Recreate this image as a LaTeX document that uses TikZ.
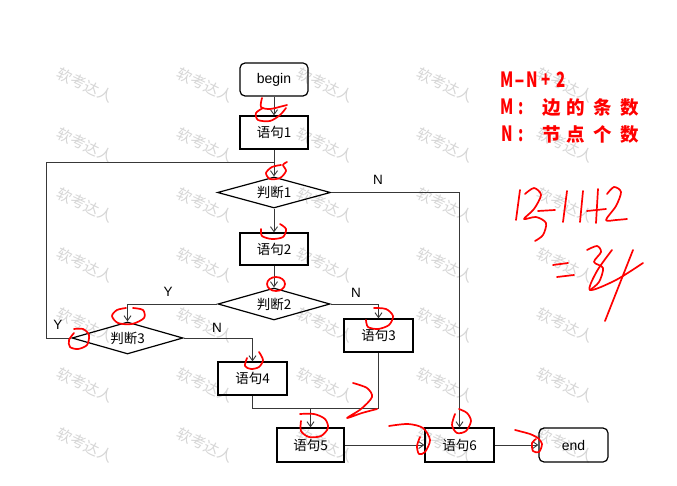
\documentclass[tikz,border=0pt]{standalone}
\usepackage{fontspec}
\setmainfont{Liberation Sans}
\newfontfamily\cjk{Noto Sans CJK SC}
\usetikzlibrary{shapes.geometric,arrows.meta}
\newcommand\lat[2][0.72]{\scalebox{#1}[1]{\fontsize{21}{22}\selectfont #2}}
\begin{document}
\begin{tikzpicture}[x=1pt,y=-1pt,
 box/.style={draw=black,line width=1.2pt,minimum width=68pt,minimum height=33pt,inner sep=0pt,font=\cjk\fontsize{13.5}{16}\selectfont},
 term/.style={box,rounded corners=5pt,font=\fontsize{14}{16}\selectfont},
 dec/.style={diamond,draw=black,line width=1.2pt,minimum width=113pt,minimum height=31pt,inner sep=0pt},
 dlab/.style={font=\cjk\fontsize{13.5}{16}\selectfont,inner sep=0pt},
 conn/.style={draw=black!78,line width=0.9pt},
 arr/.style={conn,-{Straight Barb[length=5pt,width=7pt,line width=0.9pt]}},
 yn/.style={font=\fontsize{13.5}{16}\selectfont,inner sep=0pt},
 hand/.style={draw=red,line width=1.7pt,line cap=round,line join=round},
 wm/.style={font=\cjk\fontsize{15}{16}\selectfont,text=black!16,rotate=-25.5,inner sep=0pt},
 rt/.style={font=\cjk\bfseries\fontsize{18.5}{20}\selectfont,text=red,inner sep=0pt,anchor=base}
]
\useasboundingbox[fill=white] (0,0) rectangle (677,486);

% watermarks
\foreach \i in {0,...,4}{
  \foreach \j in {0,...,6}{
    \node[wm] (wm-\i-\j) at ({85+120*\i},{85+60*\j}) {软考达人};
  }
}

% flowchart nodes
\node[term] (b) at (274,79.5) {begin};
\node[box] (s1) at (274,132.5) {语句1};
\node[dec] (d1) at (274,192.5) {};
\node[dlab] (d1t) at (d1) {判断1};
\node[box,minimum height=32pt] (s2) at (274,249) {语句2};
\node[dec,minimum width=112pt,minimum height=32pt] (d2) at (274,304) {};
\node[dlab] (d2t) at (d2) {判断2};
\node[dec,minimum width=111pt,minimum height=32pt] (d3) at (127.5,338) {};
\node[dlab] (d3t) at (d3) {判断3};
\node[box,minimum width=69pt] (s3) at (378.5,335.5) {语句3};
\node[box,minimum width=69pt] (s4) at (252.5,378.5) {语句4};
\node[box,minimum width=67pt,minimum height=34pt] (s5) at (310.5,445) {语句5};
\node[box,minimum width=69pt,minimum height=34pt] (s6) at (459.5,445) {语句6};
\node[term,minimum width=69pt,minimum height=34pt] (e) at (573.5,445) {end};

% connectors
\coordinate (j1) at (274,162);
\coordinate (lp) at (46,338);
\coordinate (j2) at (310.5,408);
\draw[arr] (b.south) -- (s1.north);
\draw[arr] (s1.south) -- (d1.north);
\draw[arr] (d1.south) -- (s2.north);
\draw[arr] (s2.south) -- (d2.north);
\draw[arr] (d2.west) -| (d3.north);
\draw[conn] (d3.west) -- (lp) |- (j1);
\draw[arr] (d3.east) -| (s4.north);
\draw[arr] (d2.east) -| (s3.north);
\draw[conn] (s4.south) |- (j2);
\draw[conn] (s3.south) |- (j2);
\draw[arr] (j2) -- (s5.north);
\draw[arr] (d1.east) -| (s6.north);
\draw[arr] (s5.east) -- (s6.west);
\draw[arr] (s6.east) -- (e.west);

% labels
\node[yn] (ly1) at (168,292) {Y};
\node[yn] (ly2) at (58,325) {Y};
\node[yn] (ln1) at (217,328) {N};
\node[yn] (ln2) at (356,293) {N};
\node[yn] (ln3) at (378,180) {N};

% red typed text
\node[rt] (r1a) at (507.5,88) {\lat{M}};
\node[rt] (r1b) at (520,88) {\lat[1.35]{-}};
\node[rt] (r1c) at (532.5,88) {\lat{N}};
\node[rt] (r1d) at (546.5,88) {\lat{+}};
\node[rt] (r1e) at (561,88) {\lat{2}};
\node[rt] (r2a) at (507.5,114.5) {\lat{M}};
\node[rt] (r2b) at (521.5,114.5) {\lat{:}};
\node[rt] (r2c) at (551.5,114.5) {边};
\node[rt] (r2d) at (576,114.5) {的};
\node[rt] (r2e) at (602.5,114.5) {条};
\node[rt] (r2f) at (630,114.5) {数};
\node[rt] (r3a) at (507.5,142) {\lat{N}};
\node[rt] (r3b) at (521.5,142) {\lat{:}};
\node[rt] (r3c) at (551.5,142) {节};
\node[rt] (r3d) at (576,142) {点};
\node[rt] (r3e) at (602.5,142) {个};
\node[rt] (r3f) at (630,142) {数};

% handwritten marks
\draw[hand] plot[smooth] coordinates {(262,98) (261,107) (270,109) (283,106) (287,105)};
\draw[hand] plot[smooth] coordinates {(286,108) (280,115) (270,121) (258,120) (256,113) (263,108)};
\draw[hand] plot[smooth] coordinates {(287,162) (283,165) (286,171) (280,178) (270,179) (266,173) (272,167) (281,165)};
\draw[hand] plot[smooth] coordinates {(280,224) (286,229) (283,237) (272,239) (262,236) (261,229)};
\draw[hand] (276,284) ellipse (9 and 7);
\draw[hand] plot[smooth] coordinates {(133,308) (143,310) (144,318) (132,324) (118,323) (112,316) (117,310) (126,308)};
\draw[hand] plot[smooth] coordinates {(74,329) (83,329) (89,335) (87,345) (78,349) (70,347) (69,340) (74,333)};
\draw[hand] plot[smooth] coordinates {(259,352) (263,360) (259,367) (251,369) (245,366) (247,358)};
\draw[hand] plot[smooth] coordinates {(300,414) (314,414) (325,419) (328,428) (321,436) (309,437) (301,431) (301,421)};
\draw[hand] plot[smooth] coordinates {(374,308) (386,309) (393,316) (389,325) (378,329) (368,327) (366,320)};
\draw[hand] plot[smooth] coordinates {(353,383) (367,388) (372,397) (361,409) (347,418) (362,413) (377,409)};
\draw[hand] plot[smooth] coordinates {(459,409) (467,413) (471,421) (466,431) (457,433) (452,425) (455,414)};
\draw[hand] plot[smooth] coordinates {(389,426) (408,424) (423,428) (430,440) (425,452) (419,454) (417,446) (420,437)};
\draw[hand] plot[smooth] coordinates {(515,430) (530,434) (538,438)};
\draw[hand] plot[smooth] coordinates {(538,438) (542,444) (539,452) (533,451) (532,443) (536,439)};
% 12-11+2
\draw[hand] (520,190) -- (516,220);
\draw[hand] plot[smooth] coordinates {(525,194) (534,188) (541,195) (534,209) (524,219) (536,217) (546,223) (543,235) (535,241)};
\draw[hand] (538,211) -- (555,210);
\draw[hand] (567,191) -- (563,222);
\draw[hand] (583,191) -- (580,222);
\draw[hand] (598,189) -- (596,223);
\draw[hand] (587,211) -- (606,209);
\draw[hand] plot[smooth] coordinates {(607,194) (614,187) (621,192) (616,206) (606,220) (616,220) (627,219)};
% =3 4
\draw[hand] (553,265) -- (568,263);
\draw[hand] (557,277) -- (574,275);
\draw[hand] plot[smooth] coordinates {(587,250) (597,246) (601,252) (594,262) (603,268) (599,282) (590,290)};
\draw[hand] plot[smooth] coordinates {(612,250) (597,271) (590,290) (616,280) (643,263)};
\draw[hand] (633,250) -- (605,321);
\end{tikzpicture}
\end{document}
